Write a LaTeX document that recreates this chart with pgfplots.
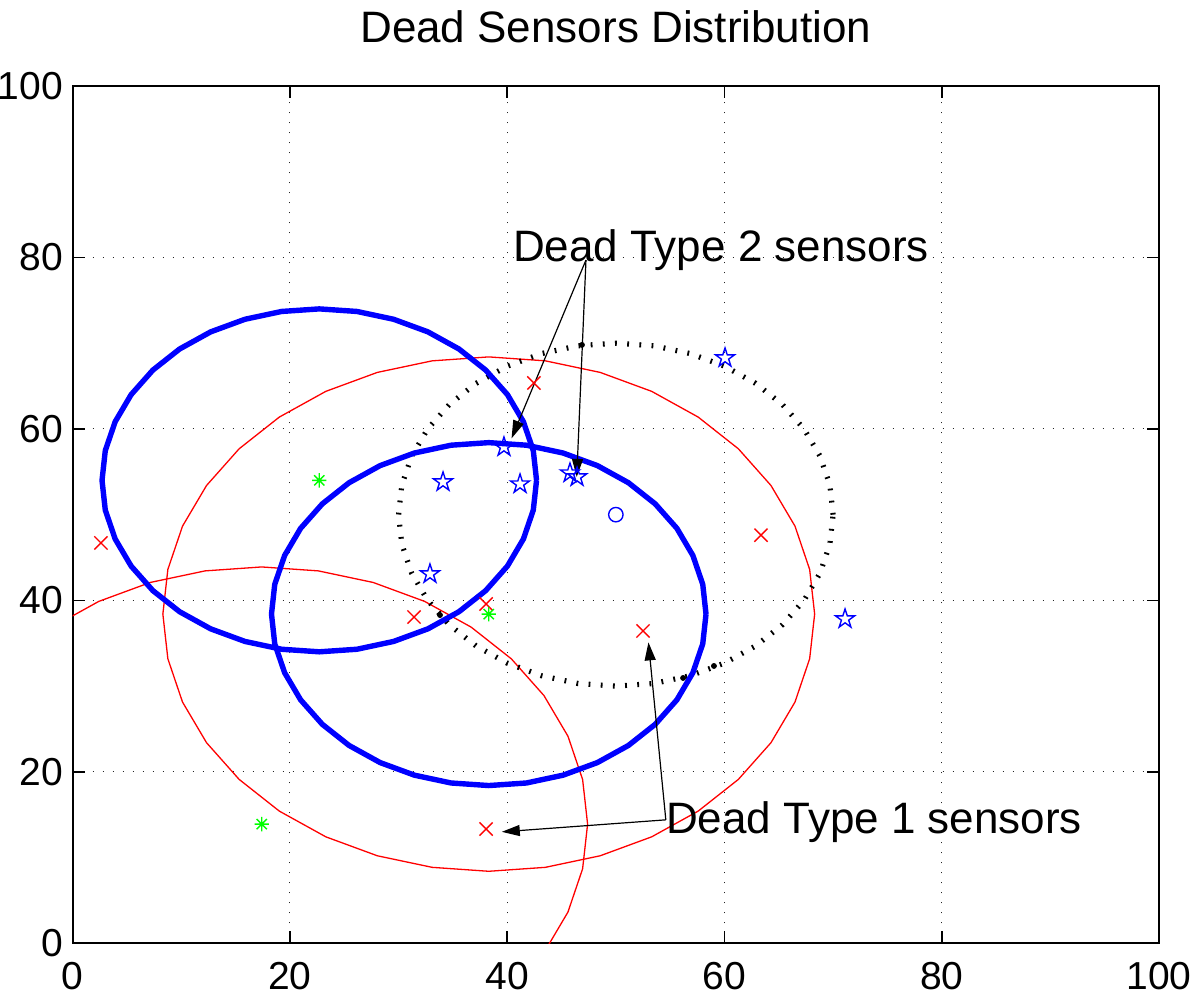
\documentclass[border=0pt]{standalone}
\usepackage{pgfplots}
\pgfplotsset{compat=1.18}
\usepackage{fontspec}
\setmainfont{Liberation Sans}
\usetikzlibrary{arrows.meta}

\pgfdeclareplotmark{pentagram}{%
  \pgfpathmoveto{\pgfqpoint{0pt}{\pgfplotmarksize}}%
  \pgfpathlineto{\pgfqpoint{-0.2245\pgfplotmarksize}{0.3090\pgfplotmarksize}}%
  \pgfpathlineto{\pgfqpoint{-0.9511\pgfplotmarksize}{0.3090\pgfplotmarksize}}%
  \pgfpathlineto{\pgfqpoint{-0.3633\pgfplotmarksize}{-0.1180\pgfplotmarksize}}%
  \pgfpathlineto{\pgfqpoint{-0.5878\pgfplotmarksize}{-0.8090\pgfplotmarksize}}%
  \pgfpathlineto{\pgfqpoint{0pt}{-0.382\pgfplotmarksize}}%
  \pgfpathlineto{\pgfqpoint{0.5878\pgfplotmarksize}{-0.8090\pgfplotmarksize}}%
  \pgfpathlineto{\pgfqpoint{0.3633\pgfplotmarksize}{-0.1180\pgfplotmarksize}}%
  \pgfpathlineto{\pgfqpoint{0.9511\pgfplotmarksize}{0.3090\pgfplotmarksize}}%
  \pgfpathlineto{\pgfqpoint{0.2245\pgfplotmarksize}{0.3090\pgfplotmarksize}}%
  \pgfpathclose
  \pgfusepathqstroke
}
\pgfdeclareplotmark{mstar}{%
  \pgfpathmoveto{\pgfqpoint{-\pgfplotmarksize}{0pt}}\pgfpathlineto{\pgfqpoint{\pgfplotmarksize}{0pt}}%
  \pgfpathmoveto{\pgfqpoint{0pt}{-\pgfplotmarksize}}\pgfpathlineto{\pgfqpoint{0pt}{\pgfplotmarksize}}%
  \pgfpathmoveto{\pgfqpoint{-0.707\pgfplotmarksize}{-0.707\pgfplotmarksize}}\pgfpathlineto{\pgfqpoint{0.707\pgfplotmarksize}{0.707\pgfplotmarksize}}%
  \pgfpathmoveto{\pgfqpoint{-0.707\pgfplotmarksize}{0.707\pgfplotmarksize}}\pgfpathlineto{\pgfqpoint{0.707\pgfplotmarksize}{-0.707\pgfplotmarksize}}%
  \pgfusepathqstroke
}
\pgfdeclareplotmark{mx}{%
  \pgfpathmoveto{\pgfqpoint{-\pgfplotmarksize}{-\pgfplotmarksize}}\pgfpathlineto{\pgfqpoint{\pgfplotmarksize}{\pgfplotmarksize}}%
  \pgfpathmoveto{\pgfqpoint{-\pgfplotmarksize}{\pgfplotmarksize}}\pgfpathlineto{\pgfqpoint{\pgfplotmarksize}{-\pgfplotmarksize}}%
  \pgfusepathqstroke
}

\definecolor{mblue}{rgb}{0,0,1}
\definecolor{mred}{rgb}{1,0,0}
\definecolor{mgreen}{rgb}{0,1,0}

\begin{document}
\begin{tikzpicture}
\useasboundingbox (-36.35pt,-26.35pt) rectangle (563.65pt,471.65pt);
\begin{axis}[
  scale only axis, width=543.15pt, height=428.65pt,
  xmin=0, xmax=100, ymin=0, ymax=100,
  xtick={0,20,...,100}, ytick={0,20,...,100},
  grid=major,
  major grid style={black!85, line width=0.5pt, dash pattern=on 0.5pt off 4.5pt},
  axis line style={line width=0.9pt},
  tick style={black, line width=0.8pt},
  major tick length=6pt,
  tick label style={font=\fontsize{19.5}{19.5}\selectfont, inner sep=0pt},
  xticklabel style={yshift=-9.5pt},
  yticklabel style={xshift=-4.7pt},
  /pgf/number format/assume math mode=true,
  title={Dead Sensors Distribution},
  title style={font=\fontsize{22}{22}\selectfont, at={(0.5,1)}, anchor=base, yshift=15.5pt, inner sep=0pt},
]
% red circle around (38.3,38.4), r=30
\addplot[mred, line width=0.65pt, no markers] coordinates {
(68.30,38.40) (67.84,43.61) (66.49,48.66) (64.28,53.40) (61.28,57.68) (57.58,61.38)
(53.30,64.38) (48.56,66.59) (43.51,67.94) (38.30,68.40) (33.09,67.94) (28.04,66.59)
(23.30,64.38) (19.02,61.38) (15.32,57.68) (12.32,53.40) (10.11,48.66) (8.76,43.61)
(8.30,38.40) (8.76,33.19) (10.11,28.14) (12.32,23.40) (15.32,19.12) (19.02,15.42)
(23.30,12.42) (28.04,10.21) (33.09,8.86) (38.30,8.40) (43.51,8.86) (48.56,10.21)
(53.30,12.42) (57.58,15.42) (61.28,19.12) (64.28,23.40) (66.49,28.14) (67.84,33.19)
(68.30,38.40)};
% red circle around (17.4,13.9), r=30 (visible part)
\addplot[mred, line width=0.65pt, no markers] coordinates {
(40.38,-5.38) (43.38,-1.10) (45.59,3.64) (46.94,8.69) (47.40,13.90) (46.94,19.11)
(45.59,24.16) (43.38,28.90) (40.38,33.18) (36.68,36.88) (32.40,39.88) (27.66,42.09)
(22.61,43.44) (17.40,43.90) (12.19,43.44) (7.14,42.09) (2.40,39.88) (-1.88,36.88)
(-5.58,33.18)};
% dotted black circle around (50,50), r=20
\addplot[black, line width=2.6pt, dash pattern=on 0.9pt off 5.2pt, no markers] coordinates {
(70,50) (69.70,53.47) (68.79,56.84) (67.32,60) (65.32,62.86) (62.86,65.32)
(60,67.32) (56.84,68.79) (53.47,69.70) (50,70) (46.53,69.70) (43.16,68.79)
(40,67.32) (37.14,65.32) (34.68,62.86) (32.68,60) (31.21,56.84) (30.30,53.47)
(30,50) (30.30,46.53) (31.21,43.16) (32.68,40) (34.68,37.14) (37.14,34.68)
(40,32.68) (43.16,31.21) (46.53,30.30) (50,30) (53.47,30.30) (56.84,31.21)
(60,32.68) (62.86,34.68) (65.32,37.14) (67.32,40) (68.79,43.16) (69.70,46.53)
(70,50)};
% blue circle around (22.7,54.0), r=20
\addplot[mblue, line width=2.7pt, no markers] coordinates {
(42.70,54.00) (42.40,57.47) (41.49,60.84) (40.02,64.00) (38.02,66.86) (35.56,69.32)
(32.70,71.32) (29.54,72.79) (26.17,73.70) (22.70,74.00) (19.23,73.70) (15.86,72.79)
(12.70,71.32) (9.84,69.32) (7.38,66.86) (5.38,64.00) (3.91,60.84) (3.00,57.47)
(2.70,54.00) (3.00,50.53) (3.91,47.16) (5.38,44.00) (7.38,41.14) (9.84,38.68)
(12.70,36.68) (15.86,35.21) (19.23,34.30) (22.70,34.00) (26.17,34.30) (29.54,35.21)
(32.70,36.68) (35.56,38.68) (38.02,41.14) (40.02,44.00) (41.49,47.16) (42.40,50.53)
(42.70,54.00)};
% blue circle around (38.3,38.4), r=20
\addplot[mblue, line width=2.7pt, no markers] coordinates {
(58.30,38.40) (58.00,41.87) (57.09,45.24) (55.62,48.40) (53.62,51.26) (51.16,53.72)
(48.30,55.72) (45.14,57.19) (41.77,58.10) (38.30,58.40) (34.83,58.10) (31.46,57.19)
(28.30,55.72) (25.44,53.72) (22.98,51.26) (20.98,48.40) (19.51,45.24) (18.60,41.87)
(18.30,38.40) (18.60,34.93) (19.51,31.56) (20.98,28.40) (22.98,25.54) (25.44,23.08)
(28.30,21.08) (31.46,19.61) (34.83,18.70) (38.30,18.40) (41.77,18.70) (45.14,19.61)
(48.30,21.08) (51.16,23.08) (53.62,25.54) (55.62,28.40) (57.09,31.56) (58.00,34.93)
(58.30,38.40)};
% black dots
\addplot[only marks, mark=*, mark size=1.25pt, black] coordinates {
(46.88,69.8) (33.81,38.29) (59.03,32.35) (56.19,30.95)};
% dead type 2 (blue stars)
\addplot[only marks, mark=pentagram, mark size=5pt, mblue, line width=0.7pt] coordinates {
(60.05,68.28) (39.70,57.89) (34.09,53.81) (41.18,53.57) (45.78,54.85) (46.43,54.39)
(32.89,43.08) (71.10,37.83)};
% blue circle marker
\addplot[only marks, mark=o, mark size=3.6pt, mblue, line width=0.7pt] coordinates {(50,50)};
% dead type 1 (red x)
\addplot[only marks, mark=mx, mark size=3.3pt, mred, line width=0.7pt] coordinates {
(2.6,46.7) (42.46,65.36) (63.36,47.6) (31.42,38.06) (38.05,39.58) (52.5,36.43) (38.05,13.33)};
% green centres
\addplot[only marks, mark=mstar, mark size=3.6pt, mgreen, line width=0.7pt] coordinates {
(22.7,54.0) (38.3,38.4) (17.4,13.9)};
% annotations
\draw[line width=0.6pt, -{Triangle[length=9pt,width=5.5pt]}] (axis cs:47.25,79.7) -- (axis cs:40.4,58.9);
\draw[line width=0.6pt, -{Triangle[length=9pt,width=5.5pt]}] (axis cs:47.25,79.7) -- (axis cs:46.4,54.4);
\node[anchor=base west, inner sep=0pt, font=\fontsize{22}{22}\selectfont] at (axis cs:40.5,79.5) {Dead Type 2 sensors};
\draw[line width=0.6pt, -{Triangle[length=9pt,width=5.5pt]}] (axis cs:54.6,14.4) -- (axis cs:39.5,13.0);
\draw[line width=0.6pt, -{Triangle[length=9pt,width=5.5pt]}] (axis cs:54.6,14.4) -- (axis cs:53.0,35.1);
\node[anchor=base west, inner sep=0pt, font=\fontsize{22}{22}\selectfont] at (axis cs:54.6,12.8) {Dead Type 1 sensors};
\end{axis}
\end{tikzpicture}
\end{document}
